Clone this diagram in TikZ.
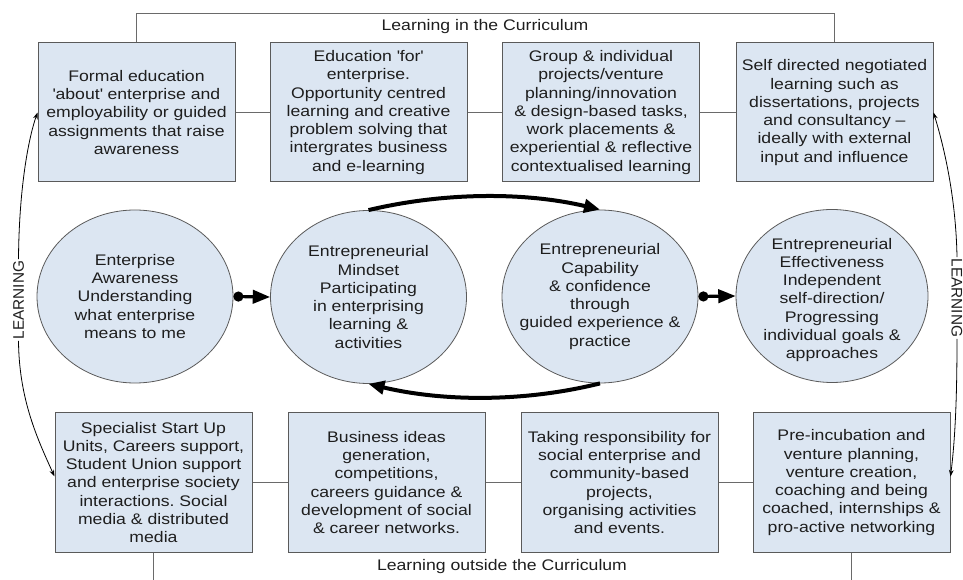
\documentclass[tikz,border=0pt]{standalone}
\usepackage{fontspec}
\setmainfont[FakeStretch=1.15]{Liberation Sans}
\newfontfamily\plainsans{Liberation Sans}
\usetikzlibrary{shapes.geometric,arrows.meta}
\definecolor{boxfill}{HTML}{DCE6F2}
\definecolor{boxline}{HTML}{5A5A5A}
\definecolor{txt}{HTML}{1E1E1E}
\definecolor{conn}{HTML}{6A6A6A}
\frenchspacing
\begin{document}
\begin{tikzpicture}[x=0.75pt,y=-0.75pt,
  every node/.style={text=txt, font=\fontsize{11.5}{13.7}\selectfont},
  box/.style={draw=boxline, line width=0.75pt, fill=boxfill, minimum width=147.75pt, minimum height=104.25pt, align=center, inner sep=0pt},
  oval/.style={ellipse, draw=boxline, line width=0.6pt, fill=boxfill, minimum width=147pt, minimum height=129.75pt, inner sep=0pt},
  inoval/.style={align=center, inner sep=0pt},
  link/.style={draw=conn, line width=0.75pt},
  dotarrow/.style={line width=2.4pt, {Circle[length=7.5pt]}-{Triangle[length=13pt,width=10pt]}},
  cyclearrow/.style={line width=3pt, -{Triangle[length=12pt,width=10pt]}},
  learn/.style={line width=0.6pt, -{Stealth[length=5pt,width=3.5pt]}},
  side/.style={font=\plainsans\fontsize{11.5}{13.7}\selectfont, inner sep=1pt}
]
\useasboundingbox (0,0) rectangle (963,580);

% top row
\node[box] (b1) at (136.5,112.5) {Formal education\\\textquotesingle about\textquotesingle{} enterprise and\\employability or guided\\assignments that raise\\awareness};
\node[box] (b2) at (368.5,112.5) {Education \textquotesingle for\textquotesingle\\enterprise.\\Opportunity centred\\learning and creative\\problem solving that\\intergrates business\\and e-learning};
\node[box] (b3) at (601,112.5) {Group \& individual\\projects/venture\\planning/innovation\\\& design-based tasks,\\work placements \&\\experiential \& reflective\\contextualised learning};
\node[box] (b4) at (834.5,112.5) {Self directed negotiated\\learning such as\\dissertations, projects\\and consultancy –\\ideally with external\\input and influence};

% bottom row
\node[box] (b5) at (153.5,482.5) {Specialist Start Up\\Units, Careers support,\\Student Union support\\and enterprise society\\interactions. Social\\media \& distributed\\media};
\node[box] (b6) at (386.5,482.5) {Business ideas\\generation,\\competitions,\\careers guidance \&\\development of social\\\& career networks.};
\node[box] (b7) at (619.5,482.5) {Taking responsibility for\\social enterprise and\\community-based\\projects,\\organising activities\\and events.};
\node[box] (b8) at (851.5,482.5) {Pre-incubation and\\venture planning,\\venture creation,\\coaching and being\\coached, internships \&\\pro-active networking};

% connectors between boxes
\draw[link] (b1) -- (b2);
\draw[link] (b2) -- (b3);
\draw[link] (b3) -- (b4);
\draw[link] (b5) -- (b6);
\draw[link] (b6) -- (b7);
\draw[link] (b7) -- (b8);

% brackets
\coordinate (topline) at (0,14);
\coordinate (botline) at (0,585);
\draw[link] (b1.north) -- (b1.north |- topline) -| (b4.north);
\draw[link] (b5.south) -- (b5.south |- botline);
\draw[link] (b8.south) -- (b8.south |- botline);
\node (lin) at (485,27) {Learning in the Curriculum};
\node (lout) at (502,567) {Learning outside the Curriculum};

% ellipses
\node[oval] (e1) at (135,296.5) {};
\node[oval] (e2) at (368.5,297) {};
\node[oval] (e3) at (600,296.5) {};
\node[oval, minimum width=144pt] (e4) at (832,296) {};
\node[inoval] (t1) at (e1) {Enterprise\\Awareness\\Understanding\\what enterprise\\means to me};
\node[inoval] (t2) at (e2) {Entrepreneurial\\Mindset\\Participating\\in enterprising\\learning \&\\activities};
\node[inoval] (t3) at (e3) {Entrepreneurial\\Capability\\\& confidence\\through\\guided experience \&\\practice};
\node[inoval] (t4) at ([yshift=-3pt]e4.center) {Entrepreneurial\\Effectiveness\\Independent\\self-direction/\\Progressing\\individual goals \&\\approaches};

\draw[dotarrow] (e1.east) -- (e2.west);
\draw[dotarrow] (e3.east) -- (e4.west);

\draw[cyclearrow] (e2.north) .. controls (445,192) and (525,192) .. (e3.north);
\draw[cyclearrow] (e3.south) .. controls (525,402) and (445,402) .. (e2.south);

% side labels
\node[side, rotate=90] (ll) at (18.5,300) {LEARNING};
\node[side, rotate=-90] (lr) at (957,298) {LEARNING};
\draw[learn] (ll.east) .. controls (19,190) and (28,140) .. (b1.west);
\draw[learn] (ll.west) .. controls (19,400) and (38,440) .. ([yshift=4.5pt]b5.west);
\draw[learn] (lr.west) .. controls (956,200) and (945,150) .. (b4.east);
\draw[learn] (lr.east) .. controls (957,400) and (955,440) .. ([yshift=4.5pt]b8.east);
\end{tikzpicture}
\end{document}
